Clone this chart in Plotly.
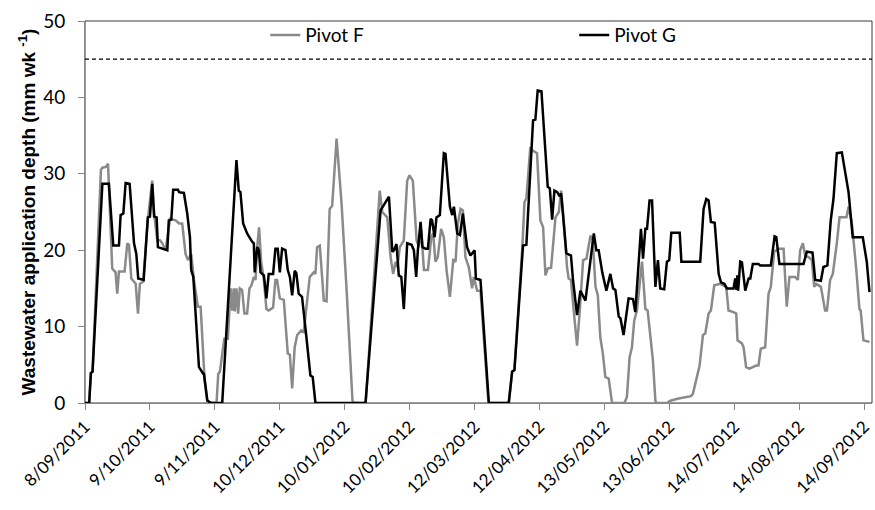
import pandas as pd
import plotly.graph_objects as go

# Weekly wastewater application depth (mm/wk) for two irrigation pivots.
# Day offsets are counted from 8 Sep 2011.
START = pd.Timestamp("2011-09-08")

f_day = [0, 2, 2.8, 3.6, 7.6, 8.3, 9.9, 11, 12.2, 13, 14.6, 15.4, 16.2, 18.9, 20.2, 21,
         22.1, 24.2, 25.3, 26.2, 27.8, 30, 32.1, 33, 34.5, 35.8, 36.9, 38.5, 40.6, 43.3,
         44.9, 46.4, 48, 49.1, 50.7, 52, 53.9, 55.2, 57.1, 58.4, 62.8, 63.6, 64.4, 66.5,
         68.2, 69.5, 70.3, 71.0, 71.5, 72.3, 73.1, 73.9, 75.0, 76.1, 77.4, 78.5, 79.5,
         80.6, 81.4, 82.2, 83.1, 84.1, 85.4, 86.6, 87.7, 89.8, 90.9, 91.7, 93, 94.9, 96.8,
         97.8, 98.9, 100.1, 101.3, 103.2, 104.4, 106.3, 107.3, 109.2, 110, 110.8, 112.1,
         114, 115.3, 116.8, 118, 120.1, 122.5, 124.8, 126.4, 127.7, 128.3, 134, 140.7,
         141.9, 144.3, 145.9, 147.1, 148.3, 149.1, 150.3, 152.2, 153.8, 154.9, 156.5,
         158.3, 159.4, 160.5, 161.8, 163.7, 165.3, 166.2, 167.3, 168.4, 170, 171.3, 172.6,
         174.2, 175.8, 176.9, 178, 179.3, 180.4, 181.6, 183.2, 184.8, 185.6, 187.2, 188.8,
         192.6, 202.3, 203.9, 205, 208.8, 209.8, 210.7, 212.6, 213.4, 215.8, 217.4, 218.7,
         219.8, 220.9, 222.5, 224.6, 226.2, 227.3, 228.5, 230.1, 230.9, 232, 233.3, 234.9,
         236.2, 237.8, 239.4, 241.3, 242.4, 243.7, 244.8, 246, 247.2, 248.4, 250, 251.6,
         257.5, 258.7, 260, 261.1, 262.2, 263.5, 265.9, 267.5, 268.6, 269.9, 271.1, 272.3,
         272.7, 277.8, 279.4, 283.4, 289.3, 290.2, 292.1, 293.4, 295, 296.1, 297.7, 298.8,
         300.4, 303.3, 306.1, 307.2, 309.6, 310.9, 311.5, 313.6, 314.4, 315.6, 317.2, 320.4,
         321.5, 322.6, 324.7, 326.3, 327.4, 329, 331.1, 333.5, 335, 336.3, 339, 340.3,
         341.4, 342.7, 343.8, 345.4, 347, 348.1, 349, 350.2, 351.3, 353.3, 354.2, 355.7,
         357, 358.9, 360.2, 362.1, 363.5, 364.5, 366.1, 368.1, 369.7, 370.3, 371.6, 374.5]
f_val = [0, 0, 3.9, 4.1, 30.5, 30.8, 30.9, 31.3, 23.0, 17.6, 17.1, 14.3, 17.2, 17.2, 20.9, 20.7,
         16.3, 15.6, 11.7, 15.6, 15.9, 24.0, 29.1, 24.8, 21.3, 21.3, 20.9, 20.0, 24.1, 23.9,
         23.5, 23.5, 19.5, 18.7, 19.5, 16.1, 12.6, 12.6, 3.0, 0.1, 0, 3.8, 4.1, 8.4,
         8.4, 15.0, 12.1, 15.0, 12.0, 15.0, 11.7, 15.0, 14.8, 11.7, 11.7, 15.0, 15.4,
         16.5, 16.1, 20.4, 23.0, 18.5, 16.1, 12.3, 12.1, 12.5, 16.1, 16.1, 13.7, 13.5, 6.5,
         6.3, 1.9, 7.3, 8.9, 9.5, 9.3, 14.3, 16.5, 17.1, 16.9, 20.4, 20.6,
         13.4, 13.3, 25.4, 25.8, 34.6, 26.0, 15.2, 6.5, 0.3, 0, 0, 27.8,
         25.0, 24.3, 19.1, 16.9, 18.5, 17.8, 20.4, 21.3, 29.1, 29.8, 29.1,
         21.3, 20.4, 22.6, 17.4, 17.4, 21.7, 22.2, 18.5, 19.1, 22.8, 21.7, 17.4,
         13.9, 18.7, 18.5, 23.5, 25.4, 25.2, 19.1, 17.8, 15.0, 16.5, 14.7, 14.7,
         0, 0, 4.1, 4.3, 20.5, 26.3, 26.8, 33.5, 33.1, 32.7, 23.9, 23.0,
         16.7, 17.6, 17.7, 24.3, 25.0, 27.8, 24.0, 17.8, 16.3, 16.1, 12.1, 7.5,
         12.1, 18.7, 18.9, 21.9, 21.3, 15.2, 14.1, 8.6, 6.5, 3.4, 3.2, 0,
         0, 0.8, 6.0, 7.3, 10.8, 12.1, 18.5, 12.3, 12.1, 8.2, 5.6, 0.3,
         0, 0, 0.3, 0.6, 0.9, 1.2, 3.4, 4.9, 8.9, 9.1, 11.7, 12.1,
         15.4, 15.6, 15.2, 12.1, 11.9, 11.7, 8.2, 7.8, 7.3, 4.7, 4.5, 4.9,
         4.9, 7.1, 7.3, 14.3, 15.2, 19.8, 20.2, 20.2, 12.6, 16.5, 16.5, 16.1,
         20.0, 20.9, 19.3, 19.1, 18.7, 15.2, 15.6, 15.4, 15.2, 12.1, 12.1, 16.1,
         16.9, 20.9, 24.3, 24.3, 24.3, 25.7, 23.5, 17.8, 12.3, 12.1, 8.2, 8.0]

g_day = [0, 2, 2.8, 3.6, 8.3, 11.4, 13.5, 16.2, 17, 18.3, 19.4, 21.3, 23.4, 24.5, 25.4, 28,
         30, 31, 32.1, 33, 34.2, 34.8, 39.3, 40, 41.2, 42.1, 44.4, 44.9, 47.2, 48.8, 50.1,
         50.7, 51.7, 54.4, 56.5, 56.8, 58.4, 60, 65.5, 72.3, 73.4, 74.2, 75.5, 77.4, 79.8,
         80.6, 81, 82.2, 83, 83.8, 85.4, 86.6, 87.7, 89.8, 90.9, 92, 93, 94.1, 95.7, 96.8,
         97.8, 98.9, 100.1, 100.9, 102, 103.6, 105.2, 107.6, 108.7, 110, 133.9, 141.1,
         145.1, 146.7, 147.5, 148.7, 149.8, 151, 152.2, 153.8, 155.9, 157, 158.1, 158.9,
         160.2, 161.1, 162.6, 163.7, 165, 165.7, 166.9, 167.8, 169.4, 171.3, 172.1, 174.2,
         175.3, 176.1, 177.7, 179, 180.4, 182.4, 184, 186.0, 186.6, 188.8, 192.8, 202.3,
         203.9, 205, 209.1, 210.7, 213.9, 215, 216.1, 217.9, 220.9, 221.9, 223, 224.1,
         225.4, 226.3, 227.3, 229.8, 232, 233, 234.9, 236.5, 238.9, 241.3, 242.9, 244.1,
         245.2, 247.0, 248.9, 250.8, 252.1, 253.2, 254.8, 255.6, 257.1, 259.5, 261.6,
         262.7, 265.4, 266.4, 267.5, 268.3, 269.5, 270.7, 272.3, 273.5, 274.6, 276.5,
         277.8, 278.9, 279.9, 283.9, 284.7, 293.7, 295.3, 296.6, 297.7, 298.8, 300.6,
         302.5, 303.6, 305.2, 306.4, 309.6, 310.4, 311.0, 311.4, 311.8, 312.8, 313.6,
         315.2, 316.8, 317.6, 318.8, 321.5, 322.3, 327.4, 329.2, 330, 331.5, 343, 344.6,
         347.3, 348.6, 351.3, 352.5, 354.4, 356, 357.3, 358.9, 361.3, 364.5, 366.5, 371.3,
         373.2, 374.5]
g_val = [0, 0, 3.9, 4.1, 28.7, 28.7, 20.6, 20.6, 24.6, 24.8, 28.8, 28.7, 20.9, 19.5, 16.3, 16.1,
         24.3, 24.4, 28.7, 24.4, 24.3, 20.4, 20.0, 23.9, 24.0, 27.9, 27.9, 27.6, 27.5, 24.8, 21.7,
         17.4, 16.5, 4.7, 3.8, 3.8, 0.35, 0, 0, 31.8, 27.8, 27.6, 23.5, 22.2, 21.1,
         20.9, 17.1, 20.4, 20.0, 17.1, 16.7, 13.7, 16.9, 16.9, 20.2, 20.2, 17.1, 20.2, 20.0, 17.4,
         16.5, 14.1, 17.3, 17.0, 14.3, 13.9, 9.9, 3.6, 3.4, 0, 0, 25.2,
         27.0, 19.8, 20.0, 20.8, 16.7, 16.5, 12.3, 20.9, 20.7, 20.0, 16.5, 20.0,
         23.7, 20.4, 20.2, 20.2, 24.1, 23.9, 21.7, 24.3, 24.6, 32.7, 32.6, 25.7,
         24.6, 25.7, 22.2, 22.0, 24.8, 20.4, 19.3, 20.0, 16.3, 16.1, 0, 0,
         4.1, 4.3, 20.6, 20.7, 37.0, 37.1, 40.9, 40.8, 28.3, 28.1, 24.0, 27.8,
         27.6, 27.2, 27.4, 19.6, 19.3, 16.0, 11.5, 14.7, 13.4, 18.9, 22.2, 20.0,
         20.0, 17.0, 14.7, 16.9, 15.0, 14.8, 11.3, 11.1, 8.9, 13.7, 13.6,
         11.9, 22.8, 18.9, 22.8, 22.8, 26.5, 26.5, 15.2, 18.7, 15.0, 14.9,
         18.5, 18.7, 22.3, 22.3, 18.5, 18.5, 25.4, 26.7, 26.5, 23.7, 23.6,
         16.9, 15.8, 15.6, 15.0, 15.0, 16.3, 14.8, 16.7, 14.7, 18.5, 18.4,
         14.7, 16.3, 16.3, 18.2, 18.2, 18.0, 18.0, 21.8, 21.7, 18.2, 18.2, 19.8,
         19.7, 16.1, 16.0, 17.8, 18.0, 23.9, 26.7, 32.7, 32.8, 27.6, 21.7, 21.7,
         18.5, 14.5]

# Category ticks every 31 days and their printed labels
tick_dates = ["2011-09-08", "2011-10-09", "2011-11-09", "2011-12-10", "2012-01-10",
              "2012-02-10", "2012-03-12", "2012-04-12", "2012-05-13", "2012-06-13",
              "2012-07-14", "2012-08-14", "2012-09-14"]
tick_labels = ["8/09/2011", "9/10/2011", "9/11/2011", "10/12/2011", "10/01/2012",
               "10/02/2012", "12/03/2012", "12/04/2012", "13/05/2012", "13/06/2012",
               "14/07/2012", "14/08/2012", "14/09/2012"]

limit_value = 45      # dashed reference line
x_span_days = 375.7   # visible span of the date axis

def to_dates(days):
    return START + pd.to_timedelta(pd.Series(days, dtype=float), unit="D")

FONT = "Lato"
TITLE_FONT = "Liberation Sans"
TEXT = "#000000"

fig = go.Figure()
fig.add_trace(go.Scatter(x=to_dates(f_day), y=f_val, mode="lines", name="Pivot F",
                         line=dict(color="#8a8a8a", width=2.5)))
fig.add_trace(go.Scatter(x=to_dates(g_day), y=g_val, mode="lines", name="Pivot G",
                         line=dict(color="#000000", width=2.5)))

# plot-area frame
fig.add_shape(type="rect", xref="paper", yref="paper", x0=0, x1=1, y0=0, y1=1,
              line=dict(color="#3a3a3a", width=1), layer="below")
# dashed limit line
fig.add_shape(type="line", xref="paper", yref="y", x0=0, x1=1,
              y0=limit_value, y1=limit_value,
              line=dict(color="#000000", width=1.3, dash="4px,3px"))

fig.update_layout(
    width=875, height=510,
    margin=dict(l=85, r=3, t=21, b=107, autoexpand=False),
    paper_bgcolor="white", plot_bgcolor="white",
    font=dict(family=FONT, color=TEXT, size=19),
    showlegend=True,
    legend=dict(orientation="h", x=0.229, xanchor="left", y=0.963, yanchor="middle",
                bgcolor="rgba(0,0,0,0)", font=dict(size=19, family=FONT, color=TEXT),
                entrywidth=264, entrywidthmode="pixels", itemwidth=30,
                tracegroupgap=0),
    xaxis=dict(
        type="date", automargin=False,
        range=[START, START + pd.Timedelta(days=x_span_days)],
        tickvals=tick_dates, ticktext=tick_labels, tickangle=-45,
        ticks="outside", ticklen=6, tickcolor="#868686", tickwidth=1,
        showline=True, linecolor="#868686", linewidth=1,
        showgrid=False, zeroline=False,
        tickfont=dict(size=17, family=FONT, color=TEXT),
    ),
    yaxis=dict(
        automargin=False,
        range=[0, 50], tickvals=[0, 10, 20, 30, 40, 50],
        ticks="outside", ticklen=6, tickcolor="#868686", tickwidth=1,
        ticklabelstandoff=9,
        showline=True, linecolor="#868686", linewidth=1,
        showgrid=False, zeroline=False,
        tickfont=dict(size=19, family=FONT, color=TEXT),
        title=dict(text="<b>Wastewater application depth (mm wk <sup>-1</sup>)</b>",
                   font=dict(size=19, family=TITLE_FONT, color=TEXT),
                   standoff=2),
    ),
)

fig.write_html("out.html")
